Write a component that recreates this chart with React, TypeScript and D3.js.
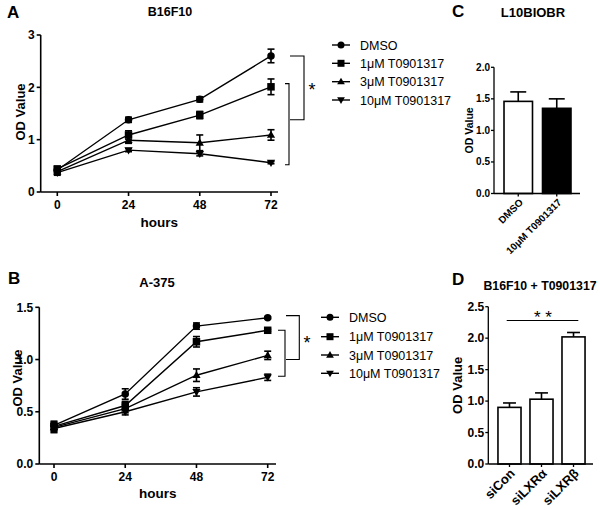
import React from "react";
import * as d3 from "d3";

const hours = [0, 24, 48, 72];
const seriesNames = ["DMSO", "1μM T0901317", "3μM T0901317", "10μM T0901317"];
const markerTypes = ["circle", "square", "triUp", "triDown"];

// Panel A (B16F10)
const aDMSO = [0.42, 1.38, 1.77, 2.6];
const a1uM = [0.44, 1.09, 1.47, 2.01];
const a3uM = [0.39, 0.99, 0.94, 1.09];
const a10uM = [0.37, 0.8, 0.73, 0.56];
const aErrDMSO = [0.05, 0.05, 0.05, 0.13];
const aErr1uM = [0.05, 0.08, 0.07, 0.15];
const aErr3uM = [0.05, 0.06, 0.15, 0.1];
const aErr10uM = [0.05, 0.03, 0.04, 0.02];
const aTicks = [0, 1, 2, 3];

// Panel B (A-375)
const bDMSO = [0.37, 0.67, 1.32, 1.4];
const b1uM = [0.36, 0.56, 1.17, 1.28];
const b3uM = [0.35, 0.53, 0.85, 1.04];
const b10uM = [0.34, 0.5, 0.69, 0.83];
const bErrDMSO = [0.04, 0.05, 0.03, 0.01];
const bErr1uM = [0.04, 0.04, 0.05, 0.01];
const bErr3uM = [0.04, 0.04, 0.06, 0.04];
const bErr10uM = [0.04, 0.03, 0.04, 0.03];
const bTicks = [0, 0.5, 1.0, 1.5];

// Panel C (L10BIOBR)
const cCats = ["DMSO", "10μM T0901317"];
const cVals = [1.46, 1.35];
const cErr = [0.15, 0.15];
const cFill = ["#ffffff", "#000000"];
const cTicks = [0, 0.5, 1.0, 1.5, 2.0];

// Panel D (B16F10 + T0901317)
const dCats = ["siCon", "siLXRα", "siLXRβ"];
const dVals = [0.9, 1.03, 2.02];
const dErr = [0.07, 0.1, 0.07];
const dTicks = [0, 0.5, 1.0, 1.5, 2.0, 2.5];

const FONT = "'Liberation Sans', Arial, Helvetica, sans-serif";

function Marker({ type, x, y, s }: { type: string; x: number; y: number; s: number }) {
  if (type === "circle") return <circle cx={x} cy={y} r={s * 0.5} fill="#000" />;
  if (type === "square")
    return <rect x={x - s * 0.5} y={y - s * 0.5} width={s} height={s} fill="#000" />;
  const h = s * 0.95;
  if (type === "triUp")
    return (
      <path
        d={`M${x},${y - h * 0.6}L${x + s * 0.55},${y + h * 0.4}L${x - s * 0.55},${y + h * 0.4}Z`}
        fill="#000"
      />
    );
  return (
    <path
      d={`M${x},${y + h * 0.6}L${x + s * 0.55},${y - h * 0.4}L${x - s * 0.55},${y - h * 0.4}Z`}
      fill="#000"
    />
  );
}

type LineProps = {
  letter: string;
  letterX: number;
  letterY: number;
  title: string;
  titleX: number;
  titleY: number;
  titleFont: number;
  axisX0: number;
  axisX1: number;
  xPos0: number;
  xPos72: number;
  yTop: number;
  yBottom: number;
  yMax: number;
  ticks: number[];
  tickFmt: (v: number) => string;
  series: number[][];
  errs: number[][];
  hoursY: number;
  odX: number;
  odY: number;
  brackets: { x0: number; x1: number; v0: number; v1: number }[];
  star: { x: number; y: number };
  legendX: number;
  legendYs: number[];
};

function LinePanel(p: LineProps) {
  const x = d3.scaleLinear().domain([0, 72]).range([p.xPos0, p.xPos72]);
  const y = d3.scaleLinear().domain([0, p.yMax]).range([p.yBottom, p.yTop]);
  const line = d3
    .line<number>()
    .x((_, i) => x(hours[i]))
    .y((d) => y(d));
  return (
    <g fontFamily={FONT}>
      <text x={p.letterX} y={p.letterY} fontSize={17} fontWeight="bold">
        {p.letter}
      </text>
      <text x={p.titleX} y={p.titleY} fontSize={p.titleFont} fontWeight="bold" textAnchor="middle">
        {p.title}
      </text>
      {/* axes */}
      <line x1={p.axisX0} x2={p.axisX0} y1={p.yTop} y2={p.yBottom} stroke="#000" strokeWidth={1.6} />
      <line x1={p.axisX0} x2={p.axisX1} y1={p.yBottom} y2={p.yBottom} stroke="#000" strokeWidth={1.6} />
      {p.ticks.map((t) => (
        <g key={t}>
          <line x1={p.axisX0 - 4} x2={p.axisX0} y1={y(t)} y2={y(t)} stroke="#000" strokeWidth={1.6} />
          <text
            x={p.axisX0 - 6}
            y={y(t)}
            dy="0.35em"
            textAnchor="end"
            fontSize={12}
            fontWeight="bold"
          >
            {p.tickFmt(t)}
          </text>
        </g>
      ))}
      {hours.map((h) => (
        <g key={h}>
          <line x1={x(h)} x2={x(h)} y1={p.yBottom} y2={p.yBottom + 4} stroke="#000" strokeWidth={1.6} />
          <text x={x(h)} y={p.yBottom + 17} textAnchor="middle" fontSize={12} fontWeight="bold">
            {h}
          </text>
        </g>
      ))}
      <text
        x={(p.axisX0 + p.axisX1) / 2}
        y={p.hoursY}
        textAnchor="middle"
        fontSize={13.5}
        fontWeight="bold"
      >
        hours
      </text>
      <text
        transform={`translate(${p.odX},${p.odY}) rotate(-90)`}
        textAnchor="middle"
        fontSize={13}
        fontWeight="bold"
      >
        OD Value
      </text>
      {/* series */}
      {p.series.map((s, si) => (
        <g key={si}>
          <path d={line(s) || ""} fill="none" stroke="#000" strokeWidth={1.4} />
          {s.map((v, i) => {
            const e = p.errs[si][i];
            const cx = x(hours[i]);
            return (
              <g key={i}>
                <line x1={cx} x2={cx} y1={y(v - e)} y2={y(v + e)} stroke="#000" strokeWidth={1.6} />
                <line x1={cx - 3.5} x2={cx + 3.5} y1={y(v + e)} y2={y(v + e)} stroke="#000" strokeWidth={1.6} />
                <line x1={cx - 3.5} x2={cx + 3.5} y1={y(v - e)} y2={y(v - e)} stroke="#000" strokeWidth={1.6} />
                <Marker type={markerTypes[si]} x={cx} y={y(v)} s={7.5} />
              </g>
            );
          })}
        </g>
      ))}
      {/* brackets */}
      {p.brackets.map((b, i) => (
        <path
          key={i}
          d={`M${b.x0},${y(b.v0)}H${b.x1}V${y(b.v1)}H${b.x0}`}
          fill="none"
          stroke="#000"
          strokeWidth={1.1}
        />
      ))}
      <text x={p.star.x} y={p.star.y + 9.5} fontSize={18} textAnchor="middle">
        *
      </text>
      {/* legend */}
      {seriesNames.map((n, i) => (
        <g key={n}>
          <line
            x1={p.legendX - 9}
            x2={p.legendX + 9}
            y1={p.legendYs[i]}
            y2={p.legendYs[i]}
            stroke="#000"
            strokeWidth={1.4}
          />
          <Marker type={markerTypes[i]} x={p.legendX} y={p.legendYs[i]} s={7} />
          <text x={p.legendX + 19} y={p.legendYs[i]} dy="0.36em" fontSize={12.5}>
            {n}
          </text>
        </g>
      ))}
    </g>
  );
}

type BarProps = {
  letter: string;
  letterX: number;
  letterY: number;
  title: string;
  titleX: number;
  titleY: number;
  titleFont: number;
  axisX0: number;
  axisX1: number;
  yTop: number;
  yBottom: number;
  yMax: number;
  ticks: number[];
  cats: string[];
  vals: number[];
  errs: number[];
  fills: string[];
  bandX0: number;
  bandX1: number;
  padding: number;
  tickFont: number;
  odFont: number;
  odX: number;
  catFont: number;
};

function BarPanel(p: BarProps) {
  const x = d3.scaleBand<string>().domain(p.cats).range([p.bandX0, p.bandX1]).padding(p.padding);
  const y = d3.scaleLinear().domain([0, p.yMax]).range([p.yBottom, p.yTop]);
  const bw = x.bandwidth();
  return (
    <g fontFamily={FONT}>
      <text x={p.letterX} y={p.letterY} fontSize={17} fontWeight="bold">
        {p.letter}
      </text>
      <text x={p.titleX} y={p.titleY} fontSize={p.titleFont} fontWeight="bold" textAnchor="middle">
        {p.title}
      </text>
      {p.cats.map((c, i) => {
        const bx = x(c) as number;
        const cx = bx + bw / 2;
        const top = y(p.vals[i] + p.errs[i]);
        return (
          <g key={c}>
            <line x1={cx} x2={cx} y1={y(p.vals[i])} y2={top} stroke="#000" strokeWidth={1.6} />
            <line x1={cx - bw * 0.28} x2={cx + bw * 0.28} y1={top} y2={top} stroke="#000" strokeWidth={1.6} />
            <rect
              x={bx}
              y={y(p.vals[i])}
              width={bw}
              height={p.yBottom - y(p.vals[i])}
              fill={p.fills[i]}
              stroke="#000"
              strokeWidth={1.6}
            />
          </g>
        );
      })}
      <line x1={p.axisX0} x2={p.axisX0} y1={p.yTop} y2={p.yBottom} stroke="#000" strokeWidth={1.3} />
      <line x1={p.axisX0} x2={p.axisX1} y1={p.yBottom} y2={p.yBottom} stroke="#000" strokeWidth={1.3} />
      {p.ticks.map((t) => (
        <g key={t}>
          <line x1={p.axisX0 - 3} x2={p.axisX0} y1={y(t)} y2={y(t)} stroke="#000" strokeWidth={1.3} />
          <text
            x={p.axisX0 - 4}
            y={y(t)}
            dy="0.35em"
            textAnchor="end"
            fontSize={p.tickFont}
            fontWeight="bold"
          >
            {t.toFixed(1)}
          </text>
        </g>
      ))}
      {p.cats.map((c) => {
        const cx = (x(c) as number) + bw / 2;
        return (
          <g key={c}>
            <line x1={cx} x2={cx} y1={p.yBottom} y2={p.yBottom + 3} stroke="#000" strokeWidth={1.3} />
            <text
              transform={`translate(${cx + 3},${p.yBottom + 7}) rotate(-45)`}
              textAnchor="end"
              dy="0.35em"
              fontSize={p.catFont}
              fontWeight="bold"
            >
              {c}
            </text>
          </g>
        );
      })}
      <text
        transform={`translate(${p.odX},${(p.yTop + p.yBottom) / 2}) rotate(-90)`}
        textAnchor="middle"
        fontSize={p.odFont}
        fontWeight="bold"
      >
        OD Value
      </text>
    </g>
  );
}

export default function App() {
  const dY = d3.scaleLinear().domain([0, 2.5]).range([464, 306.7]);
  return (
    <svg
      width={600}
      height={510}
      style={{ position: "absolute", left: 0, top: 0, background: "#fff" }}
    >
      <rect width={600} height={510} fill="#fff" />
      <LinePanel
        letter="A"
        letterX={7}
        letterY={18}
        title="B16F10"
        titleX={170}
        titleY={16}
        titleFont={12.5}
        axisX0={40.7}
        axisX1={278}
        xPos0={57.3}
        xPos72={271}
        yTop={35}
        yBottom={192}
        yMax={3}
        ticks={aTicks}
        tickFmt={(v) => String(v)}
        series={[aDMSO, a1uM, a3uM, a10uM]}
        errs={[aErrDMSO, aErr1uM, aErr3uM, aErr10uM]}
        hoursY={227}
        odX={25}
        odY={112}
        brackets={[
          { x0: 290, x1: 304, v0: 2.6, v1: 1.38 },
          { x0: 285, x1: 289, v0: 2.07, v1: 0.52 },
        ]}
        star={{ x: 312, y: 86 }}
        legendX={341}
        legendYs={[45, 63.3, 81.7, 100]}
      />
      <LinePanel
        letter="B"
        letterX={8}
        letterY={284}
        title="A-375"
        titleX={157}
        titleY={287}
        titleFont={13}
        axisX0={39.3}
        axisX1={276}
        xPos0={54}
        xPos72={267.7}
        yTop={307.3}
        yBottom={464}
        yMax={1.5}
        ticks={bTicks}
        tickFmt={(v) => v.toFixed(1)}
        series={[bDMSO, b1uM, b3uM, b10uM]}
        errs={[bErrDMSO, bErr1uM, bErr3uM, bErr10uM]}
        hoursY={498}
        odX={22}
        odY={378}
        brackets={[
          { x0: 286, x1: 299.3, v0: 1.42, v1: 1.0 },
          { x0: 278, x1: 285, v0: 1.28, v1: 0.84 },
        ]}
        star={{ x: 307, y: 339 }}
        legendX={330}
        legendYs={[317.3, 336.7, 355, 373.3]}
      />
      <BarPanel
        letter="C"
        letterX={452}
        letterY={17}
        title="L10BIOBR"
        titleX={533}
        titleY={17}
        titleFont={13}
        axisX0={494}
        axisX1={580}
        yTop={67.3}
        yBottom={193.5}
        yMax={2}
        ticks={cTicks}
        cats={cCats}
        vals={cVals}
        errs={cErr}
        fills={cFill}
        bandX0={494}
        bandX1={581}
        padding={0.26}
        tickFont={10}
        odFont={10.5}
        odX={473}
        catFont={10}
      />
      <BarPanel
        letter="D"
        letterX={452}
        letterY={285}
        title="B16F10 + T0901317"
        titleX={540}
        titleY={290}
        titleFont={12.3}
        axisX0={488.3}
        axisX1={593}
        yTop={306.7}
        yBottom={464}
        yMax={2.5}
        ticks={dTicks}
        cats={dCats}
        vals={dVals}
        errs={dErr}
        fills={["#fff", "#fff", "#fff"]}
        bandX0={489}
        bandX1={594}
        padding={0.28}
        tickFont={12}
        odFont={13}
        odX={462}
        catFont={13}
      />
      <line x1={506.7} x2={578.3} y1={dY(2.28)} y2={dY(2.28)} stroke="#000" strokeWidth={1.1} />
      <text x={543} y={dY(2.28) + 2} textAnchor="middle" fontSize={17} fontFamily={FONT}>
        * *
      </text>
    </svg>
  );
}
